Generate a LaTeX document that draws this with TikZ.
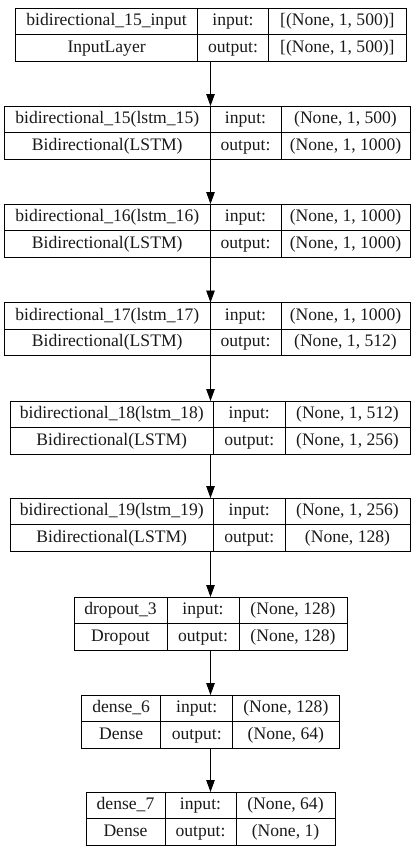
\documentclass[tikz,border=0pt]{standalone}
\usepackage{fontspec}
\setmainfont{Liberation Serif}
\newfontfamily\lserif{Liberation Serif}
\usetikzlibrary{arrows.meta}
\tikzset{
  box/.style={draw=black, line width=0.9pt, inner sep=0pt, outer sep=0pt, rectangle},
  sep/.style={draw=black, line width=0.9pt},
  txt/.style={inner sep=0pt, text height=12.5pt, text depth=4pt, anchor=center,
              font=\lserif\fontsize{17.6}{20}\selectfont, text=black!90},
  arr/.style={draw=black, line width=0.9pt, -{Triangle[length=12pt,width=8.5pt]}}
}
% #1 name, #2 top, #3 left, #4 d1, #5 d2, #6 right, #7 layer name, #8 class
\newcommand\mylayer[8]{%
  \pgfmathsetmacro\lbw{#6-#3}%
  \pgfmathsetmacro\lcx{(#3+#6)/2}%
  \pgfmathsetmacro\lcy{#2+26.5}%
  \node[box, minimum width=\lbw pt, minimum height=53pt] (#1) at (\lcx,\lcy) {};
  \draw[sep] (#3,\lcy) -- (#6,\lcy);
  \draw[sep] (#4,#2) -- (#4,#2+53);
  \draw[sep] (#5,#2) -- (#5,#2+53);
  \node[txt] (#1-name) at ({(#3+#4)/2},{#2+13.25}) {#7};
  \node[txt] (#1-cls)  at ({(#3+#4)/2},{#2+39.75}) {#8};
  \node[txt] (#1-in)   at ({(#4+#5)/2},{#2+13.25}) {input:};
  \node[txt] (#1-out)  at ({(#4+#5)/2},{#2+39.75}) {output:};
  \coordinate (#1-v1) at ({(#5+#6)/2},{#2+13.25});
  \coordinate (#1-v2) at ({(#5+#6)/2},{#2+39.75});
}
\begin{document}
\begin{tikzpicture}[x=1pt,y=-1pt]
\useasboundingbox (0,0) rectangle (411,846);
\coordinate (ax) at (210.5,0);

\mylayer{b1}{8}{15.5}{197.7}{268.3}{406.5}{bidirectional\_15\_input}{InputLayer}
\node[txt] at (b1-v1) {[(None, 1, 500)]};
\node[txt] at (b1-v2) {[(None, 1, 500)]};

\mylayer{b2}{106}{4.5}{210}{281}{410}{bidirectional\_15(lstm\_15)}{Bidirectional(LSTM)}
\node[txt] at (b2-v1) {(None, 1, 500)};
\node[txt] at (b2-v2) {(None, 1, 1000)};

\mylayer{b3}{204}{4.5}{210}{281}{410}{bidirectional\_16(lstm\_16)}{Bidirectional(LSTM)}
\node[txt] at (b3-v1) {(None, 1, 1000)};
\node[txt] at (b3-v2) {(None, 1, 1000)};

\mylayer{b4}{302.5}{4.5}{210}{281}{410}{bidirectional\_17(lstm\_17)}{Bidirectional(LSTM)}
\node[txt] at (b4-v1) {(None, 1, 1000)};
\node[txt] at (b4-v2) {(None, 1, 512)};

\mylayer{b5}{401}{10}{213.5}{285}{410}{bidirectional\_18(lstm\_18)}{Bidirectional(LSTM)}
\node[txt] at (b5-v1) {(None, 1, 512)};
\node[txt] at (b5-v2) {(None, 1, 256)};

\mylayer{b6}{498}{10}{213.5}{285}{410}{bidirectional\_19(lstm\_19)}{Bidirectional(LSTM)}
\node[txt] at (b6-v1) {(None, 1, 256)};
\node[txt] at (b6-v2) {(None, 128)};

\mylayer{b7}{597}{74}{167}{239}{347}{dropout\_3}{Dropout}
\node[txt] at (b7-v1) {(None, 128)};
\node[txt] at (b7-v2) {(None, 128)};

\mylayer{b8}{695}{81.7}{160.7}{232.7}{339}{dense\_6}{Dense}
\node[txt] at (b8-v1) {(None, 128)};
\node[txt] at (b8-v2) {(None, 64)};

\mylayer{b9}{792}{86}{165}{236}{335}{dense\_7}{Dense}
\node[txt] at (b9-v1) {(None, 64)};
\node[txt] at (b9-v2) {(None, 1)};

\draw[arr] (b1.south -| ax) -- (b2.north -| ax);
\draw[arr] (b2.south -| ax) -- (b3.north -| ax);
\draw[arr] (b3.south -| ax) -- (b4.north -| ax);
\draw[arr] (b4.south -| ax) -- (b5.north -| ax);
\draw[arr] (b5.south -| ax) -- (b6.north -| ax);
\draw[arr] (b6.south -| ax) -- (b7.north -| ax);
\draw[arr] (b7.south -| ax) -- (b8.north -| ax);
\draw[arr] (b8.south -| ax) -- (b9.north -| ax);
\end{tikzpicture}
\end{document}
